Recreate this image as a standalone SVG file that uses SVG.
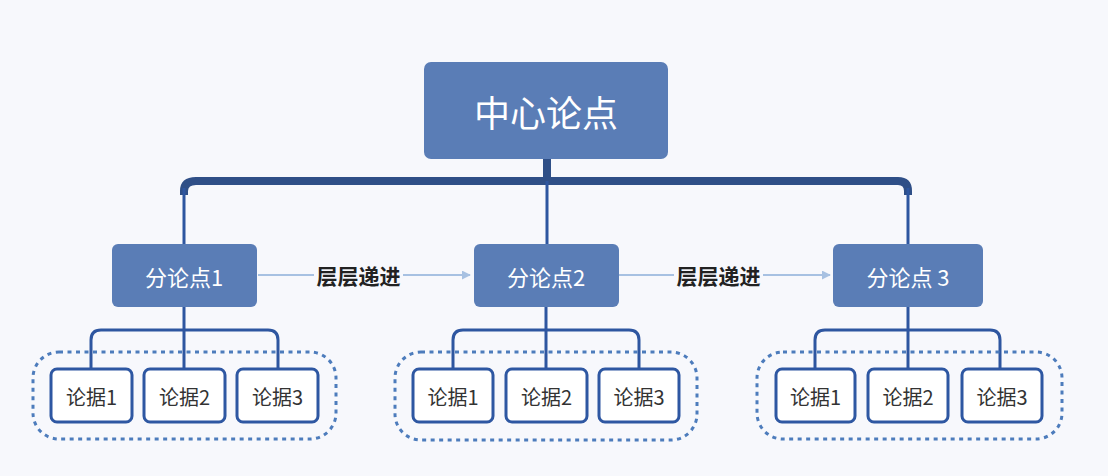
<svg xmlns="http://www.w3.org/2000/svg" width="1108" height="476" viewBox="0 0 1108 476">
<defs>
<style>
.main{fill:#5a7db6;}
.sub{fill:#5a7db6;}
.leaf{fill:#ffffff;stroke:#2e57a2;stroke-width:3;}
.grp{fill:none;stroke:#4d7cbc;stroke-width:3;stroke-dasharray:4 4.5;}
.tw{fill:#ffffff;font-family:"Noto Sans CJK SC","Noto Sans",sans-serif;text-anchor:middle;dominant-baseline:central;}
.tl{fill:#333333;font-family:"Noto Sans CJK SC","Noto Sans",sans-serif;font-size:20px;text-anchor:middle;dominant-baseline:central;}
.lab{fill:#222222;font-family:"Noto Sans CJK SC","Noto Sans",sans-serif;font-size:21px;font-weight:bold;text-anchor:middle;dominant-baseline:central;}
.thick{fill:none;stroke:#2f4f87;stroke-width:8;}
.thin{fill:none;stroke:#2e56a0;stroke-width:3;}
.arr{fill:none;stroke:#a7c1e2;stroke-width:2;}
</style>
<marker id="ah" viewBox="0 0 10 10" refX="9" refY="5" markerWidth="9" markerHeight="9" markerUnits="userSpaceOnUse" orient="auto">
<path d="M0,0 L10,5 L0,10 z" fill="#a7c1e2"/>
</marker>
</defs>
<rect width="1108" height="476" fill="#f7f8fc"/>
<g id="connectors">
<path class="thick" d="M547,159 V181"/>
<path class="thick" d="M184,195 V191 Q184,181 196,181 H898 Q908,181 908,191 V195"/>
<path class="thin" d="M184,188 V244 M547,181 V244 M908,188 V244"/>
<path class="thin" d="M184,307 V369 M91,369 V340 Q91,330 101,330 H268 Q278,330 278,340 V369"/>
<path class="thin" d="M546,307 V369 M453,369 V340 Q453,330 463,330 H629 Q639,330 639,340 V369"/>
<path class="thin" d="M908,307 V369 M815,369 V340 Q815,330 825,330 H990 Q1000,330 1000,340 V369"/>
<path class="arr" d="M258,275 H314 M403,275 H470" marker-end="url(#ah)"/>
<path class="arr" d="M619,275 H674 M763,275 H830" marker-end="url(#ah)"/>
<text class="lab" x="358.5" y="275">层层递进</text>
<text class="lab" x="718.5" y="275">层层递进</text>
</g>
<g id="center">
<rect class="main" x="424" y="62" width="244" height="97" rx="7"/>
<text class="tw" x="546" y="111" font-size="36">中心论点</text>
</g>
<g id="sub1">
<rect class="sub" x="112" y="244" width="145" height="63" rx="6"/>
<text class="tw" x="184" y="276" font-size="22">分论点1</text>
</g>
<g id="sub2">
<rect class="sub" x="474" y="244" width="145" height="63" rx="6"/>
<text class="tw" x="546" y="276" font-size="22">分论点2</text>
</g>
<g id="sub3">
<rect class="sub" x="833" y="244" width="150" height="63" rx="6"/>
<text class="tw" x="908" y="276" font-size="22">分论点 3</text>
</g>
<g id="group1">
<rect class="grp" x="33" y="352" width="303" height="87" rx="26"/>
</g>
<g id="group2">
<rect class="grp" x="395" y="352" width="302" height="88" rx="26"/>
</g>
<g id="group3">
<rect class="grp" x="757" y="352" width="305" height="87" rx="26"/>
</g>
<g id="leaf1-1"><rect class="leaf" x="51" y="369" width="81" height="53" rx="6"/><text class="tl" x="91.5" y="396">论据1</text></g>
<g id="leaf1-2"><rect class="leaf" x="144" y="369" width="81" height="53" rx="6"/><text class="tl" x="184.5" y="396">论据2</text></g>
<g id="leaf1-3"><rect class="leaf" x="237" y="369" width="81" height="53" rx="6"/><text class="tl" x="277.5" y="396">论据3</text></g>
<g id="leaf2-1"><rect class="leaf" x="413" y="369" width="80" height="53" rx="6"/><text class="tl" x="453" y="396">论据1</text></g>
<g id="leaf2-2"><rect class="leaf" x="506" y="369" width="81" height="53" rx="6"/><text class="tl" x="546.5" y="396">论据2</text></g>
<g id="leaf2-3"><rect class="leaf" x="599" y="369" width="80" height="53" rx="6"/><text class="tl" x="639" y="396">论据3</text></g>
<g id="leaf3-1"><rect class="leaf" x="776" y="369" width="79" height="53" rx="6"/><text class="tl" x="815.5" y="396">论据1</text></g>
<g id="leaf3-2"><rect class="leaf" x="868" y="369" width="80" height="53" rx="6"/><text class="tl" x="908" y="396">论据2</text></g>
<g id="leaf3-3"><rect class="leaf" x="962" y="369" width="80" height="53" rx="6"/><text class="tl" x="1002" y="396">论据3</text></g>
</svg>
